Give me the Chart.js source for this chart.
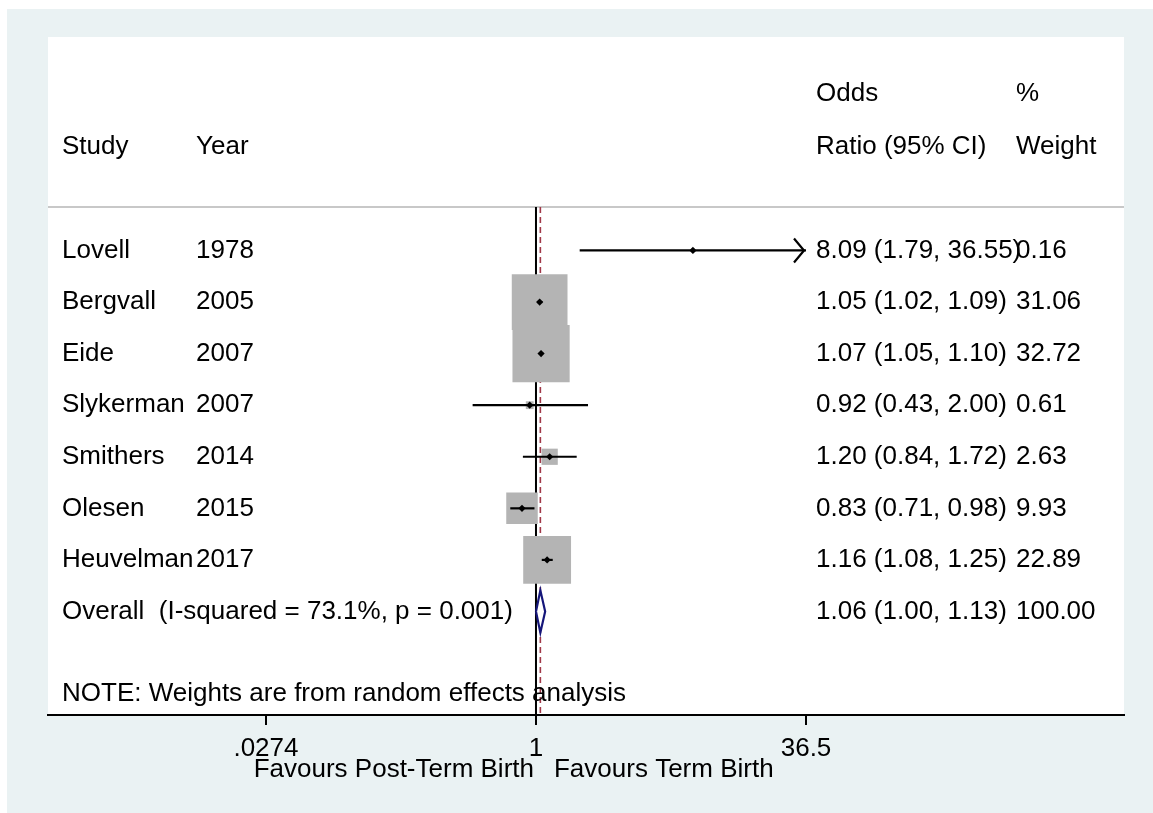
<!DOCTYPE html>
<html>
<head>
<meta charset="utf-8">
<script src="https://cdn.jsdelivr.net/npm/chart.js@4.4.1/dist/chart.umd.min.js"></script>
<style>
  html, body { margin: 0; padding: 0; background: #ffffff; }
  #wrap { width: 1153px; height: 813px; position: relative; }
</style>
</head>
<body>
<div id="wrap"><canvas id="c" width="1153" height="813"></canvas></div>
<script>
// ---------------- DATA ----------------
const studies   = ['Lovell', 'Bergvall', 'Eide', 'Slykerman', 'Smithers', 'Olesen', 'Heuvelman'];
const years     = ['1978', '2005', '2007', '2007', '2014', '2015', '2017'];
const oddsRatio = [8.09, 1.05, 1.07, 0.92, 1.20, 0.83, 1.16];
const ciLower   = [1.79, 1.02, 1.05, 0.43, 0.84, 0.71, 1.08];
const ciUpper   = [36.55, 1.09, 1.10, 2.00, 1.72, 0.98, 1.25];
const weights   = [0.16, 31.06, 32.72, 0.61, 2.63, 9.93, 22.89];

const overallOR     = 1.06;
const overallLower  = 1.00;
const overallUpper  = 1.13;
const overallWeight = 100.00;
const overallLabel  = 'Overall  (I-squared = 73.1%, p = 0.001)';
const noteLabel     = 'NOTE: Weights are from random effects analysis';

const tickValues = [0.0274, 1, 36.5];
const tickLabels = ['.0274', '1', '36.5'];

const headerStudy  = ['', 'Study'];
const headerYear   = ['', 'Year'];
const headerOR     = ['Odds', 'Ratio (95% CI)'];
const headerWeight = ['%', 'Weight'];
const xTitleLeft   = 'Favours Post-Term Birth';
const xTitleRight  = 'Favours Term Birth';

// ---------------- LAYOUT (row units on y) ----------------
const Y_MIN = -3.139, Y_MAX = 10.007;
const ROW_HEAD1 = -2.035, ROW_HEAD2 = -1.007, ROW_RULE = 0.156, ROW_NOTE = 9.60;
const ROW_OVERALL = studies.length + 1;
const X_MIN = 0.001502, X_MAX = 2524;
const COL_STUDY = 62, COL_YEAR = 196, COL_OR = 816, COL_W = 1016;
const FONT = '26px "Liberation Sans", Arial, sans-serif';
const DIAMOND_H = 0.41;
const BOX_SCALE = 10;
const AXIS_H = 50;

const clipLo = tickValues[0], clipHi = tickValues[tickValues.length - 1];
const f2 = v => v.toFixed(2);

// ---------------- DATASETS ----------------
const datasets = [];

datasets.push({
  label: 'overall',
  data: [
    {x: overallLower, y: ROW_OVERALL},
    {x: overallOR, y: ROW_OVERALL - DIAMOND_H},
    {x: overallUpper, y: ROW_OVERALL},
    {x: overallOR, y: ROW_OVERALL + DIAMOND_H},
    {x: overallLower, y: ROW_OVERALL}
  ],
  showLine: true, fill: 'shape', backgroundColor: '#ffffff',
  borderColor: '#15167a', borderWidth: 2.2, pointRadius: 0, order: 0
});

datasets.push({
  label: 'estimates',
  data: oddsRatio.map((v, i) => ({x: v, y: i + 1})),
  pointStyle: 'rectRot', pointRadius: 3.6, pointBorderWidth: 0,
  backgroundColor: '#000000', borderColor: '#000000', showLine: false, order: 1
});

studies.forEach((s, i) => {
  datasets.push({
    label: 'ci-' + s,
    data: [
      {x: Math.max(ciLower[i], clipLo), y: i + 1},
      {x: Math.min(ciUpper[i], clipHi), y: i + 1}
    ],
    showLine: true, borderColor: '#000000', borderWidth: 2.2, pointRadius: 0, order: 2
  });
});

datasets.push({
  label: 'boxes',
  data: oddsRatio.map((v, i) => ({x: v, y: i + 1})),
  pointStyle: 'rect',
  pointRadius: ctx => BOX_SCALE * Math.sqrt(weights[ctx.dataIndex]) / (2 * Math.SQRT1_2),
  pointBorderWidth: 0, backgroundColor: '#b4b4b4', borderColor: '#b4b4b4',
  showLine: false, order: 3
});

datasets.push({
  label: 'overall-line',
  data: [{x: overallOR, y: ROW_RULE}, {x: overallOR, y: Y_MAX}],
  showLine: true, borderColor: '#a03848', borderWidth: 1.6, borderDash: [6, 4],
  pointRadius: 0, order: 4
});

datasets.push({
  label: 'null-line',
  data: [{x: 1, y: ROW_RULE}, {x: 1, y: Y_MAX}],
  showLine: true, borderColor: '#000000', borderWidth: 2, pointRadius: 0, order: 5
});

// ---------------- PLUGINS ----------------
const backgroundPlugin = {
  id: 'bg',
  beforeDraw(chart) {
    const {ctx, chartArea: a} = chart;
    ctx.save();
    ctx.fillStyle = '#ffffff';
    ctx.fillRect(0, 0, chart.width, chart.height);
    ctx.fillStyle = '#eaf2f3';
    ctx.fillRect(7, 9, chart.width - 7, chart.height - 9);
    ctx.fillStyle = '#ffffff';
    ctx.fillRect(a.left, a.top, a.right - a.left, a.bottom - a.top);
    const yS = chart.scales.y;
    const ry = yS.getPixelForValue(ROW_RULE);
    ctx.strokeStyle = '#c8c8c8';
    ctx.lineWidth = 2;
    ctx.beginPath();
    ctx.moveTo(a.left, ry);
    ctx.lineTo(a.right, ry);
    ctx.stroke();
    ctx.restore();
  }
};

const textPlugin = {
  id: 'texts',
  afterDraw(chart) {
    const {ctx} = chart;
    const xS = chart.scales.x, yS = chart.scales.y;
    ctx.save();
    ctx.font = FONT;
    ctx.fillStyle = '#000000';
    ctx.textBaseline = 'middle';
    ctx.textAlign = 'left';
    const put = (t, x, row) => { if (t) ctx.fillText(t, x, yS.getPixelForValue(row)); };

    [ROW_HEAD1, ROW_HEAD2].forEach((r, k) => {
      put(headerStudy[k], COL_STUDY, r);
      put(headerYear[k], COL_YEAR, r);
      put(headerOR[k], COL_OR, r);
      put(headerWeight[k], COL_W, r);
    });

    studies.forEach((s, i) => {
      const r = i + 1;
      put(s, COL_STUDY, r);
      put(years[i], COL_YEAR, r);
      put(f2(oddsRatio[i]) + ' (' + f2(ciLower[i]) + ', ' + f2(ciUpper[i]) + ')', COL_OR, r);
      put(f2(weights[i]), COL_W, r);
    });

    put(overallLabel, COL_STUDY, ROW_OVERALL);
    put(f2(overallOR) + ' (' + f2(overallLower) + ', ' + f2(overallUpper) + ')', COL_OR, ROW_OVERALL);
    put(f2(overallWeight), COL_W, ROW_OVERALL);
    put(noteLabel, COL_STUDY, ROW_NOTE);

    ctx.strokeStyle = '#000000';
    ctx.lineWidth = 2.2;
    studies.forEach((s, i) => {
      if (ciUpper[i] > clipHi) {
        const px = xS.getPixelForValue(clipHi) - 2;
        const py = yS.getPixelForValue(i + 1);
        ctx.beginPath();
        ctx.moveTo(px - 10, py - 12);
        ctx.lineTo(px, py);
        ctx.lineTo(px - 10, py + 12);
        ctx.stroke();
      }
      if (ciLower[i] < clipLo) {
        const px = xS.getPixelForValue(clipLo) + 2;
        const py = yS.getPixelForValue(i + 1);
        ctx.beginPath();
        ctx.moveTo(px + 10, py - 12);
        ctx.lineTo(px, py);
        ctx.lineTo(px + 10, py + 12);
        ctx.stroke();
      }
    });

    const x1 = xS.getPixelForValue(1);
    const ty = chart.chartArea.bottom + 55;
    ctx.textAlign = 'right';
    ctx.fillText(xTitleLeft, x1 - 2, ty);
    ctx.textAlign = 'left';
    ctx.fillText(xTitleRight, x1 + 18, ty);
    ctx.restore();
  }
};

// ---------------- CHART ----------------
new Chart(document.getElementById('c'), {
  type: 'scatter',
  data: { datasets },
  options: {
    responsive: false,
    animation: false,
    devicePixelRatio: 1,
    layout: { autoPadding: false, padding: { left: 48, right: 29, top: 37, bottom: 813 - 715 - AXIS_H } },
    plugins: { legend: { display: false }, tooltip: { enabled: false } },
    elements: { line: { tension: 0 } },
    scales: {
      x: {
        type: 'logarithmic',
        min: X_MIN, max: X_MAX,
        bounds: 'data',
        afterBuildTicks: s => { s.ticks = tickValues.map(v => ({value: v})); },
        afterFit: s => {
          s.paddingLeft = 0; s.paddingRight = 0; s.paddingTop = 0; s.paddingBottom = 0;
          s.height = AXIS_H;
        },
        ticks: {
          autoSkip: false, maxRotation: 0, minRotation: 0, padding: 8,
          color: '#000000',
          font: { family: '"Liberation Sans", Arial, sans-serif', size: 26 },
          callback: (v, i) => tickLabels[i]
        },
        grid: { drawOnChartArea: false, drawTicks: true, tickLength: 10, tickColor: '#000000', tickWidth: 2, color: '#000000', lineWidth: 2 },
        border: { display: true, color: '#000000', width: 2 }
      },
      y: {
        type: 'linear', min: Y_MIN, max: Y_MAX, reverse: true, display: false,
        afterFit: s => { s.width = 0; s.paddingTop = 0; s.paddingBottom = 0; }
      }
    }
  },
  plugins: [backgroundPlugin, textPlugin]
});
</script>
</body>
</html>
